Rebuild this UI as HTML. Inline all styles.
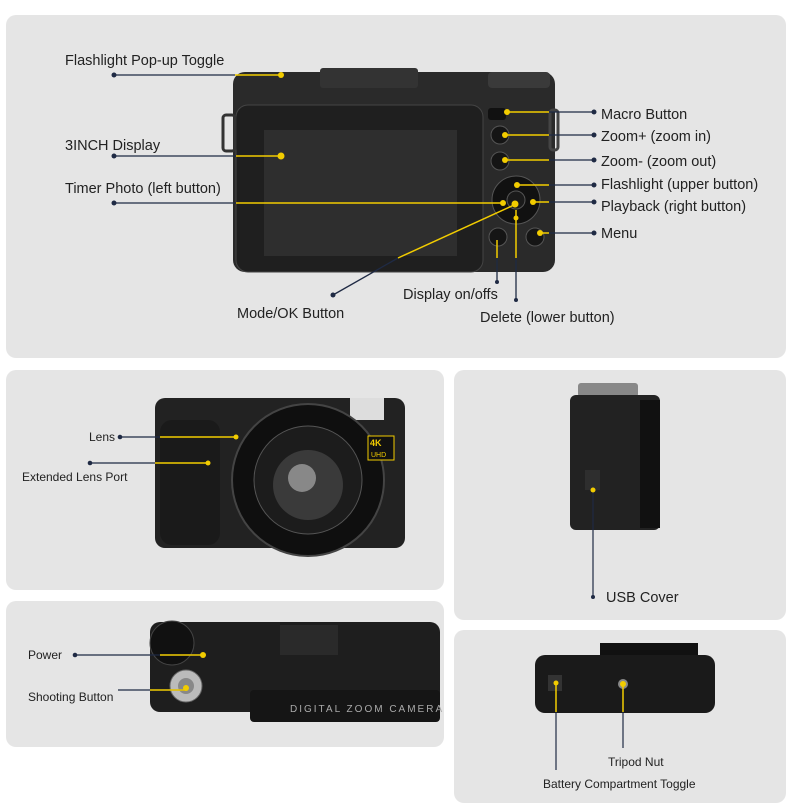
<!DOCTYPE html>
<html><head><style>
body{margin:0;background:#fff;width:800px;height:812px;overflow:hidden}
svg{display:block}
text{font-family:"Liberation Sans",sans-serif;fill:#222}
</style></head><body>
<svg width="800" height="812" viewBox="0 0 800 812">
<rect width="800" height="812" fill="#fff"/>
<g fill="#e5e5e5">
<rect x="6" y="15" width="780" height="343" rx="10"/>
<rect x="6" y="370" width="438" height="220" rx="10"/>
<rect x="454" y="370" width="332" height="250" rx="10"/>
<rect x="6" y="601" width="438" height="146" rx="10"/>
<rect x="454" y="630" width="332" height="173" rx="10"/>
</g>
<!-- Camera back -->
<rect x="233" y="72" width="322" height="200" rx="12" fill="#2a2a2a"/>
<rect x="320" y="68" width="98" height="20" rx="3" fill="#333"/>
<rect x="488" y="72" width="62" height="16" rx="4" fill="#3a3a3a"/>
<rect x="236" y="105" width="247" height="167" rx="12" fill="#1f1f1f" stroke="#444"/>
<rect x="264" y="130" width="193" height="126" fill="#2e2e2e"/>
<rect x="223" y="115" width="12" height="36" rx="3" fill="none" stroke="#333" stroke-width="3"/>
<rect x="550" y="110" width="8" height="40" rx="3" fill="none" stroke="#444" stroke-width="3"/>
<rect x="488" y="108" width="18" height="12" rx="3" fill="#111"/>
<circle cx="500" cy="135" r="9" fill="#151515" stroke="#555"/>
<circle cx="500" cy="161" r="9" fill="#151515" stroke="#555"/>
<circle cx="516" cy="200" r="24" fill="#111" stroke="#555"/>
<circle cx="516" cy="200" r="9" fill="#1a1a1a" stroke="#555"/>
<circle cx="498" cy="237" r="9" fill="#151515" stroke="#555"/>
<circle cx="535" cy="237" r="9" fill="#151515" stroke="#555"/>
<!-- lines top panel -->
<g stroke="#1f2a44" stroke-width="1.3" fill="none">
<line x1="114" y1="75" x2="235" y2="75"/>
<line x1="114" y1="156" x2="236" y2="156"/>
<line x1="114" y1="203" x2="236" y2="203"/>
<line x1="333" y1="295" x2="398" y2="258"/>
<line x1="549" y1="112" x2="592" y2="112"/>
<line x1="549" y1="135" x2="592" y2="135"/>
<line x1="549" y1="160" x2="592" y2="160"/>
<line x1="549" y1="185" x2="592" y2="185"/>
<line x1="549" y1="202" x2="592" y2="202"/>
<line x1="549" y1="233" x2="592" y2="233"/>
<line x1="497" y1="258" x2="497" y2="282"/>
<line x1="516" y1="258" x2="516" y2="300"/>
</g>
<g stroke="#f2cc00" stroke-width="1.5" fill="none">
<line x1="235" y1="75" x2="281" y2="75"/>
<line x1="236" y1="156" x2="281" y2="156"/>
<line x1="236" y1="203" x2="503" y2="203"/>
<line x1="398" y1="258" x2="514" y2="205"/>
<line x1="507" y1="112" x2="549" y2="112"/>
<line x1="505" y1="135" x2="549" y2="135"/>
<line x1="505" y1="160" x2="549" y2="160"/>
<line x1="517" y1="185" x2="549" y2="185"/>
<line x1="533" y1="202" x2="549" y2="202"/>
<line x1="540" y1="233" x2="549" y2="233"/>
<line x1="497" y1="240" x2="497" y2="258"/>
<line x1="516" y1="210" x2="516" y2="258"/>
</g>
<g fill="#f2cc00">
<circle cx="281" cy="75" r="3"/><circle cx="281" cy="156" r="3.5"/><circle cx="503" cy="203" r="3"/><circle cx="515" cy="204" r="3.5"/>
<circle cx="507" cy="112" r="3"/><circle cx="505" cy="135" r="3"/><circle cx="505" cy="160" r="3"/><circle cx="517" cy="185" r="3"/><circle cx="533" cy="202" r="3"/><circle cx="540" cy="233" r="3"/><circle cx="516" cy="218" r="2.5"/>
</g>
<g fill="#1f2a44">
<circle cx="114" cy="75" r="2.5"/><circle cx="114" cy="156" r="2.5"/><circle cx="114" cy="203" r="2.5"/><circle cx="333" cy="295" r="2.5"/>
<circle cx="594" cy="112" r="2.5"/><circle cx="594" cy="135" r="2.5"/><circle cx="594" cy="160" r="2.5"/><circle cx="594" cy="185" r="2.5"/><circle cx="594" cy="202" r="2.5"/><circle cx="594" cy="233" r="2.5"/>
<circle cx="497" cy="282" r="2"/><circle cx="516" cy="300" r="2"/>
</g>
<g font-size="14.5">
<text x="65" y="65">Flashlight Pop-up Toggle</text>
<text x="65" y="150">3INCH Display</text>
<text x="65" y="193">Timer Photo (left button)</text>
<text x="237" y="318">Mode/OK Button</text>
<text x="403" y="299">Display on/offs</text>
<text x="480" y="322">Delete (lower button)</text>
<text x="601" y="119">Macro Button</text>
<text x="601" y="141">Zoom+ (zoom in)</text>
<text x="601" y="166">Zoom- (zoom out)</text>
<text x="601" y="189">Flashlight (upper button)</text>
<text x="601" y="211">Playback (right button)</text>
<text x="601" y="238">Menu</text>
</g>
<!-- front camera -->
<rect x="155" y="398" width="250" height="150" rx="10" fill="#222"/>
<rect x="160" y="420" width="60" height="125" rx="12" fill="#1a1a1a"/>
<rect x="350" y="398" width="34" height="22" fill="#ddd"/>
<circle cx="308" cy="480" r="76" fill="#0f0f0f" stroke="#444" stroke-width="2"/>
<circle cx="308" cy="480" r="54" fill="#1c1c1c" stroke="#555"/>
<circle cx="308" cy="485" r="35" fill="#3a3a3a"/>
<circle cx="302" cy="478" r="14" fill="#888"/>
<rect x="368" y="436" width="26" height="24" fill="#111" stroke="#f2cc00"/>
<text x="370" y="446" font-size="9" font-weight="bold" style="fill:#f2cc00">4K</text>
<text x="371" y="457" font-size="7" style="fill:#f2cc00">UHD</text>
<g stroke="#1f2a44" stroke-width="1.2"><line x1="120" y1="437" x2="160" y2="437"/><line x1="90" y1="463" x2="155" y2="463"/></g>
<g stroke="#f2cc00" stroke-width="1.5"><line x1="160" y1="437" x2="236" y2="437"/><line x1="155" y1="463" x2="208" y2="463"/></g>
<circle cx="120" cy="437" r="2.3" fill="#1f2a44"/><circle cx="90" cy="463" r="2.3" fill="#1f2a44"/>
<circle cx="236" cy="437" r="2.5" fill="#f2cc00"/><circle cx="208" cy="463" r="2.5" fill="#f2cc00"/>
<text x="89" y="441" font-size="12">Lens</text>
<text x="22" y="481" font-size="12">Extended Lens Port</text>
<!-- side camera -->
<rect x="578" y="383" width="60" height="14" rx="3" fill="#888"/>
<rect x="570" y="395" width="90" height="135" rx="6" fill="#222"/>
<rect x="640" y="400" width="20" height="128" fill="#111"/>
<rect x="585" y="470" width="15" height="20" fill="#2e2e2e"/>
<line x1="593" y1="490" x2="593" y2="597" stroke="#1f2a44" stroke-width="1.2"/>
<circle cx="593" cy="490" r="2.5" fill="#f2cc00"/>
<circle cx="593" cy="597" r="2" fill="#1f2a44"/>
<text x="606" y="602" font-size="14.5">USB Cover</text>
<!-- top camera -->
<rect x="150" y="622" width="290" height="90" rx="10" fill="#1e1e1e"/>
<rect x="280" y="625" width="58" height="30" fill="#2a2a2a"/>
<rect x="250" y="690" width="190" height="32" rx="4" fill="#151515"/>
<text x="290" y="712" font-size="10" style="fill:#aaa" letter-spacing="2">DIGITAL ZOOM CAMERA</text>
<circle cx="172" cy="643" r="22" fill="#111" stroke="#444"/>
<circle cx="186" cy="686" r="16" fill="#bbb" stroke="#666"/>
<circle cx="186" cy="686" r="8" fill="#888"/>
<g stroke="#1f2a44" stroke-width="1.2"><line x1="75" y1="655" x2="200" y2="655"/><line x1="118" y1="690" x2="186" y2="690"/></g>
<g stroke="#f2cc00" stroke-width="1.5"><line x1="160" y1="655" x2="203" y2="655"/><line x1="150" y1="690" x2="186" y2="690"/></g>
<circle cx="75" cy="655" r="2.3" fill="#1f2a44"/><circle cx="203" cy="655" r="3" fill="#f2cc00"/><circle cx="186" cy="688" r="3" fill="#f2cc00"/>
<text x="28" y="659" font-size="12">Power</text>
<text x="28" y="701" font-size="12">Shooting Button</text>
<!-- bottom camera -->
<rect x="600" y="643" width="98" height="30" fill="#111"/>
<rect x="535" y="655" width="180" height="58" rx="10" fill="#1a1a1a"/>
<rect x="548" y="675" width="14" height="16" fill="#333"/>
<circle cx="623" cy="684" r="5" fill="#888"/>
<g stroke="#1f2a44" stroke-width="1.2"><line x1="556" y1="700" x2="556" y2="770"/><line x1="623" y1="700" x2="623" y2="748"/></g>
<g stroke="#f2cc00" stroke-width="1.5"><line x1="556" y1="683" x2="556" y2="712"/><line x1="623" y1="684" x2="623" y2="712"/></g>
<circle cx="556" cy="683" r="2.5" fill="#f2cc00"/><circle cx="623" cy="684" r="3" fill="#f2cc00"/>
<text x="608" y="766" font-size="12">Tripod Nut</text>
<text x="543" y="788" font-size="12">Battery Compartment Toggle</text>
</svg>
</body></html>
